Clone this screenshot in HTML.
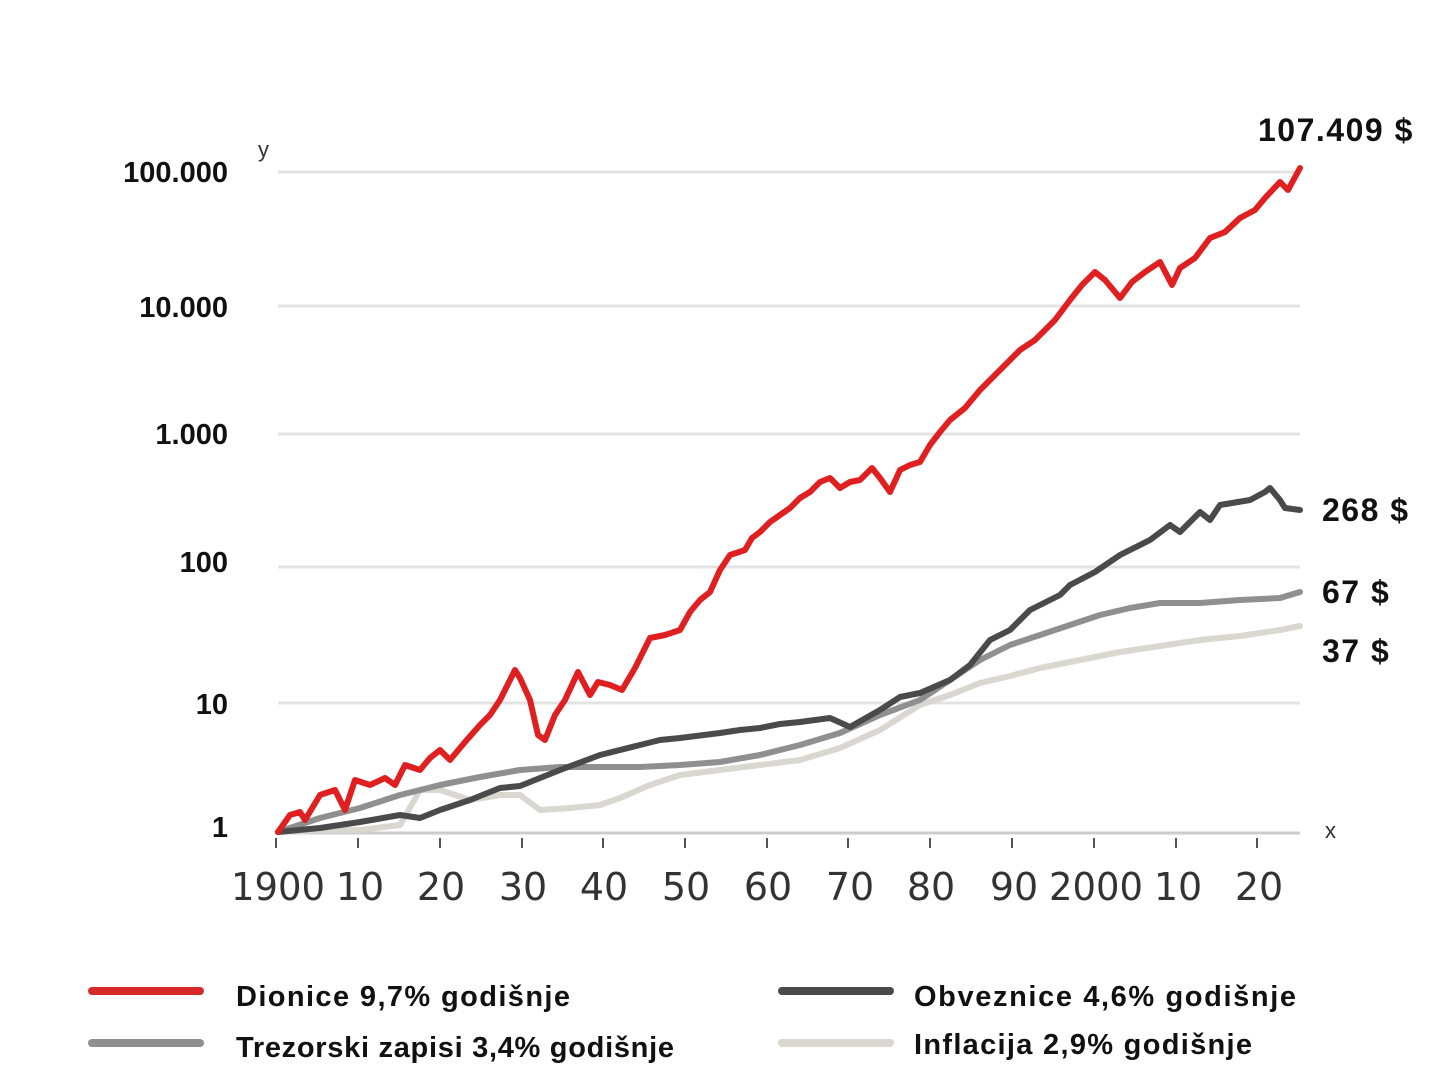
<!DOCTYPE html>
<html><head><meta charset="utf-8"><style>
html,body{margin:0;padding:0;background:#fff;}
svg{display:block;}
.yl{font-family:"Liberation Sans",sans-serif;font-weight:bold;font-size:29px;fill:#111;text-anchor:end;}
.xl{font-family:"DejaVu Sans","Liberation Sans",sans-serif;font-size:38px;fill:#333;text-anchor:middle;}
.lg{font-family:"Liberation Sans",sans-serif;font-weight:bold;font-size:29px;fill:#111;}
.vl{font-family:"Liberation Sans",sans-serif;font-weight:bold;font-size:32px;fill:#111;letter-spacing:1.5px;}
</style></head><body>
<svg width="1440" height="1080" viewBox="0 0 1440 1080" xmlns="http://www.w3.org/2000/svg">
<g stroke="#e3e3e3" stroke-width="3">
<line x1="278" y1="172" x2="1300" y2="172"/>
<line x1="278" y1="306" x2="1300" y2="306"/>
<line x1="278" y1="434" x2="1300" y2="434"/>
<line x1="278" y1="567" x2="1300" y2="567"/>
<line x1="278" y1="703" x2="1300" y2="703"/>
</g>
<line x1="278" y1="833" x2="1300" y2="833" stroke="#ccc" stroke-width="3"/>
<g stroke="#555" stroke-width="2">
<line x1="276" y1="838" x2="276" y2="848"/><line x1="358" y1="838" x2="358" y2="848"/><line x1="440" y1="838" x2="440" y2="848"/><line x1="522" y1="838" x2="522" y2="848"/><line x1="603" y1="838" x2="603" y2="848"/><line x1="685" y1="838" x2="685" y2="848"/><line x1="767" y1="838" x2="767" y2="848"/><line x1="848" y1="838" x2="848" y2="848"/><line x1="930" y1="838" x2="930" y2="848"/><line x1="1012" y1="838" x2="1012" y2="848"/><line x1="1094" y1="838" x2="1094" y2="848"/><line x1="1176" y1="838" x2="1176" y2="848"/><line x1="1257" y1="838" x2="1257" y2="848"/>
</g>
<text class="yl" x="228" y="182">100.000</text>
<text class="yl" x="228" y="317">10.000</text>
<text class="yl" x="228" y="444">1.000</text>
<text class="yl" x="228" y="572">100</text>
<text class="yl" x="228" y="714">10</text>
<text class="yl" x="228" y="837">1</text>
<text x="258" y="157" font-family="Liberation Sans,sans-serif" font-size="22" fill="#333">y</text>
<text x="1325" y="838" font-family="Liberation Sans,sans-serif" font-size="22" fill="#333">x</text>
<g class="xl">
<text x="278" y="900" textLength="94" lengthAdjust="spacingAndGlyphs">1900</text><text x="360" y="900">10</text><text x="441" y="900">20</text><text x="523" y="900">30</text><text x="604" y="900">40</text><text x="686" y="900">50</text><text x="768" y="900">60</text><text x="850" y="900">70</text><text x="931" y="900">80</text><text x="1014" y="900">90</text><text x="1096" y="900" textLength="94" lengthAdjust="spacingAndGlyphs">2000</text><text x="1178" y="900">10</text><text x="1259" y="900">20</text>
</g>
<g fill="none" stroke-linejoin="round" stroke-linecap="round">
<polyline stroke="#d9d7cf" stroke-width="6" points="278,832 320,830 360,830 400,825 420,790 440,790 470,800 500,795 520,795 540,810 570,808 600,805 620,798 650,785 680,775 720,770 760,765 800,760 840,748 880,730 920,705 950,695 980,683 1010,676 1040,668 1080,660 1120,652 1160,646 1200,640 1240,636 1280,630 1300,626"/>
<polyline stroke="#8f8f8f" stroke-width="6" points="278,832 320,818 360,808 400,795 440,785 480,777 520,770 560,767 600,767 640,767 680,765 720,762 760,755 800,745 840,733 880,715 920,700 950,680 980,660 1010,645 1040,635 1070,625 1100,615 1130,608 1160,603 1200,603 1240,600 1280,598 1300,592"/>
<polyline stroke="#4a4a4a" stroke-width="6" points="278,832 320,828 360,822 400,815 420,818 440,810 470,800 500,788 520,786 530,782 560,770 600,755 640,745 660,740 680,738 720,733 740,730 760,728 780,724 800,722 830,718 850,727 880,710 900,697 920,693 950,680 970,665 990,640 1010,630 1030,610 1050,600 1060,595 1070,585 1095,572 1120,555 1150,540 1170,525 1180,532 1200,512 1210,520 1220,505 1250,500 1265,492 1270,488 1280,500 1285,508 1300,510"/>
<polyline stroke="#e02020" stroke-width="6" points="278,832 290,815 300,812 305,820 320,795 335,790 345,810 355,780 370,785 385,778 395,785 405,765 420,770 430,758 440,750 450,760 465,742 480,725 490,715 500,700 505,690 515,670 520,678 530,700 538,735 545,740 555,715 565,700 578,672 590,695 598,682 610,685 622,690 635,668 650,638 665,635 680,630 690,612 700,600 710,592 720,570 730,555 745,550 752,538 760,532 770,522 780,515 790,508 800,498 810,492 820,482 830,478 840,488 850,482 860,480 872,468 880,478 890,492 900,470 910,465 920,462 930,445 940,432 950,420 965,408 980,390 995,375 1010,360 1020,350 1035,340 1045,330 1055,320 1070,300 1082,285 1095,272 1105,280 1120,298 1132,282 1145,272 1160,262 1172,285 1180,268 1195,258 1210,238 1225,232 1240,218 1255,210 1265,198 1280,182 1288,190 1300,168"/>
</g>
<text class="vl" x="1258" y="141">107.409 $</text>
<text class="vl" x="1322" y="521">268 $</text>
<text class="vl" x="1322" y="603">67 $</text>
<text class="vl" x="1322" y="662">37 $</text>
<g stroke-linecap="round" stroke-width="8">
<line x1="92" y1="991" x2="200" y2="991" stroke="#d62a2a"/>
<line x1="92" y1="1043" x2="200" y2="1043" stroke="#8f8f8f"/>
<line x1="782" y1="991" x2="890" y2="991" stroke="#4a4a4a"/>
<line x1="782" y1="1043" x2="890" y2="1043" stroke="#d9d7cf"/>
</g>
<text class="lg" x="236" y="1006" textLength="334">Dionice 9,7% godišnje</text>
<text class="lg" x="236" y="1057" textLength="438">Trezorski zapisi 3,4% godišnje</text>
<text class="lg" x="914" y="1006" textLength="382">Obveznice 4,6% godišnje</text>
<text class="lg" x="914" y="1054" textLength="338">Inflacija 2,9% godišnje</text>
</svg>
</body></html>
